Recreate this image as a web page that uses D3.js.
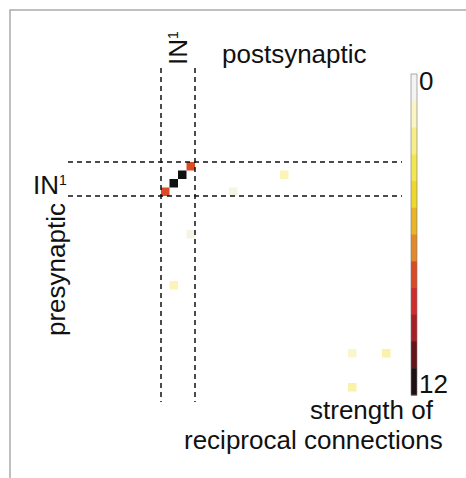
<!DOCTYPE html>
<html lang="en">
<head>
<meta charset="utf-8">
<title>Reciprocal connections</title>
<script src="https://d3js.org/d3.v7.min.js"></script>
<style>
  body { margin: 0; background: #fff; }
  svg text { font-family: "Liberation Sans", Arial, sans-serif; fill: #111; }
  .dash { stroke: #111; stroke-width: 1.5; stroke-dasharray: 5 4; }
  .frame { stroke: #aaa; stroke-width: 1.5; fill: none; }
</style>
</head>
<body>
<div id="chart"></div>
<script>
// number of neurons in the matrix
var nCells = 28;

// non-empty matrix entries: presynaptic row, postsynaptic column, strength (0..12)
var preRow   = [3, 2, 1, 0, 1, 14, 3, 8, 22, 22, 26];
var postCol  = [0, 1, 2, 3, 14, 1, 8, 3, 22, 26, 22];
var strength = [7.6, 12, 12, 7.6, 1.3, 1.3, 0.35, 0.35, 0.9, 1.6, 1.6];

// colour levels of the colour bar, from 0 (top) to 12 (bottom)
var barColors = ["#f4f4f4", "#fbf5c4", "#f7ee8a", "#f3e650", "#efd82c", "#e9b526",
                 "#e08a2c", "#da4a24", "#cf2c2c", "#a51f24", "#641517", "#1c1012"];
var barTickLabels = ["0", "12"];

// IN1 block (first four neurons)
var blockStart = 0, blockEnd = 4;

var width = 466, height = 478;

var svg = d3.select("#chart").append("svg")
    .attr("width", width)
    .attr("height", height);

// grey frame (top and left edges)
svg.append("path")
    .attr("class", "frame")
    .attr("d", "M10,478 L10,10 L466,10");

// matrix scales
var x = d3.scaleBand().domain(d3.range(nCells)).range([161, 399]);
var y = d3.scaleBand().domain(d3.range(nCells)).range([162, 400]);

// colour for a strength value
var color = d3.scaleLinear()
    .domain(barColors.map(function(c, i) { return i * 12 / 11; }))
    .range(barColors)
    .clamp(true);

var cells = preRow.map(function(r, i) {
    return {row: r, col: postCol[i], value: strength[i]};
});

svg.append("g").selectAll("rect")
    .data(cells)
    .enter().append("rect")
    .attr("x", function(d) { return x(d.col); })
    .attr("y", function(d) { return y(d.row); })
    .attr("width", x.bandwidth())
    .attr("height", y.bandwidth())
    .attr("fill", function(d) { return d.value >= 12 ? "#111" : color(d.value); });

// dashed lines around IN1
var xa = x(blockStart), xb = x(blockEnd - 1) + x.bandwidth();
var ya = y(blockStart), yb = y(blockEnd - 1) + y.bandwidth();
var lines = svg.append("g");
[xa, xb].forEach(function(v) {
    lines.append("line").attr("class", "dash")
        .attr("x1", v).attr("x2", v).attr("y1", 68).attr("y2", 402);
});
[ya, yb].forEach(function(v) {
    lines.append("line").attr("class", "dash")
        .attr("x1", 68).attr("x2", 402).attr("y1", v).attr("y2", v);
});

// labels
svg.append("text")
    .attr("x", 222).attr("y", 63)
    .style("font-size", "26px")
    .text("postsynaptic");

var inTop = svg.append("text")
    .attr("transform", "translate(187,65) rotate(-90)")
    .style("font-size", "26px");
inTop.append("tspan").text("IN");
inTop.append("tspan").attr("dy", -9).style("font-size", "14px").text("1");

var inLeft = svg.append("text")
    .attr("x", 33).attr("y", 194)
    .style("font-size", "26px");
inLeft.append("tspan").text("IN");
inLeft.append("tspan").attr("dy", -9).style("font-size", "14px").text("1");

svg.append("text")
    .attr("transform", "translate(65,336) rotate(-90)")
    .style("font-size", "26px")
    .text("presynaptic");

// colour bar
var yBar = d3.scaleBand().domain(d3.range(barColors.length)).range([74, 395]);
var bar = svg.append("g");
bar.selectAll("rect")
    .data(barColors)
    .enter().append("rect")
    .attr("x", 411)
    .attr("y", function(d, i) { return yBar(i); })
    .attr("width", 6)
    .attr("height", yBar.bandwidth() + 0.5)
    .attr("fill", function(d) { return d; });
bar.append("rect")
    .attr("x", 411).attr("y", 74)
    .attr("width", 6).attr("height", 321)
    .attr("fill", "none").attr("stroke", "#777").attr("stroke-width", 0.6);

var barAxis = d3.axisRight(yBar)
    .tickValues([0, barColors.length - 1])
    .tickSize(0)
    .tickPadding(2)
    .tickFormat(function(d, i) { return barTickLabels[i]; });
var barAxisG = bar.append("g")
    .attr("transform", "translate(417,0)")
    .call(barAxis);
barAxisG.select(".domain").remove();
barAxisG.selectAll("text")
    .style("font-size", "26px")
    .style("font-family", "'Liberation Sans', Arial, sans-serif")
    .attr("fill", "#111")
    .attr("y", function(d, i) { return i === 0 ? -6 : 3; });

svg.append("text")
    .attr("x", 310).attr("y", 419)
    .style("font-size", "26px")
    .text("strength of");
svg.append("text")
    .attr("x", 184).attr("y", 449)
    .style("font-size", "26px")
    .text("reciprocal connections");
</script>
</body>
</html>
